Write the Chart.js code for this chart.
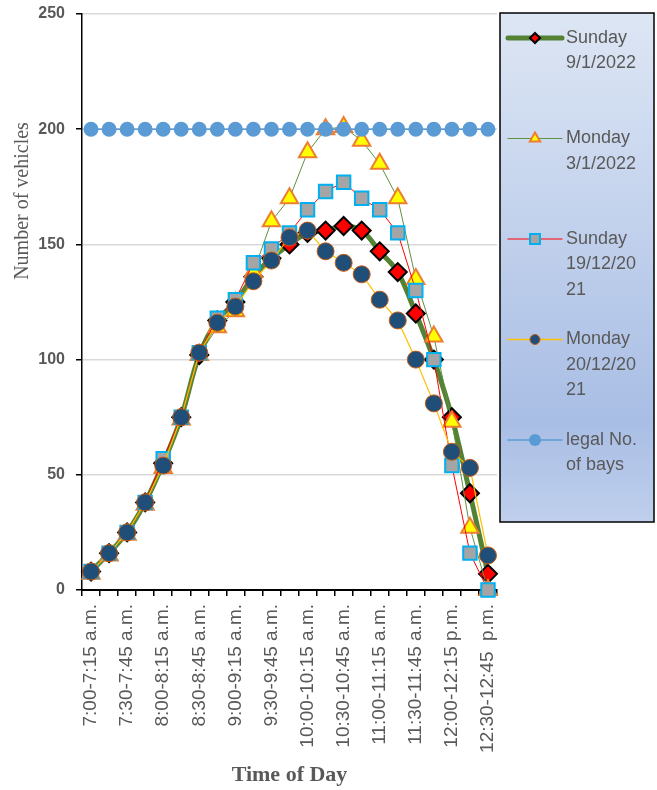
<!DOCTYPE html>
<html>
<head>
<meta charset="utf-8">
<script src="https://cdn.jsdelivr.net/npm/chart.js@4.4.0/dist/chart.umd.min.js"></script>
<style>
  body { margin: 0; background: #fff; }
  canvas { display: block; }
</style>
</head>
<body>
<canvas id="chart" width="657" height="790"></canvas>
<script>
const timeSlots = [
    '7:00-7:15 a.m.', '7:15-7:30 a.m.', '7:30-7:45 a.m.', '7:45-8:00 a.m.',
    '8:00-8:15 a.m.', '8:15-8:30 a.m.', '8:30-8:45 a.m.', '8:45-9:00 a.m.',
    '9:00-9:15 a.m.', '9:15-9:30 a.m.', '9:30-9:45 a.m.', '9:45-10:00 a.m.',
    '10:00-10:15 a.m.', '10:15-10:30 a.m.', '10:30-10:45 a.m.', '10:45-11:00 a.m.',
    '11:00-11:15 a.m.', '11:15-11:30 a.m.', '11:30-11:45 a.m.', '11:45-12:00 p.m.',
    '12:00-12:15 p.m.', '12:15-12:30 p.m.', '12:30-12:45  p.m.'
];

const sunday9Jan = [8, 16, 25, 38, 55, 75, 102, 117, 125, 136, 144, 150, 155, 156, 158, 156, 147, 138, 120, 100, 75, 42, 7];
const monday3Jan = [7, 15, 24, 37, 53, 74, 102, 114, 121, 138, 160, 170, 190, 200, 201, 195, 185, 170, 135, 110, 73, 27, 0];
const sunday19Dec = [8, 16, 25, 38, 57, 75, 103, 118, 126, 142, 148, 155, 165, 173, 177, 170, 165, 155, 130, 100, 54, 16, 0];
const monday20Dec = [8, 16, 25, 38, 54, 75, 103, 116, 123, 134, 143, 153, 156, 147, 142, 137, 126, 117, 100, 81, 60, 53, 15];
const legalBays = [200, 200, 200, 200, 200, 200, 200, 200, 200, 200, 200, 200, 200, 200, 200, 200, 200, 200, 200, 200, 200, 200, 200];

const legendLines = [
    ['Sunday', '9/1/2022'],
    ['Monday', '3/1/2022'],
    ['Sunday', '19/12/20', '21'],
    ['Monday', '20/12/20', '21'],
    ['legal No.', 'of bays']
];

const yTicks = [0, 50, 100, 150, 200, 250];

const textGray = '#595959';
const sansFont = '"Liberation Sans", Arial, sans-serif';
const serifFont = '"Liberation Serif", "Times New Roman", serif';

// legend box + rotated y title, drawn by hand like the Excel original
const sidePlugin = {
    id: 'sidePlugin',
    afterDraw(chart) {
        const ctx = chart.ctx;
        ctx.save();

        // y axis title
        ctx.translate(23, 201);
        ctx.rotate(-Math.PI / 2);
        ctx.fillStyle = textGray;
        ctx.font = '20px ' + serifFont;
        ctx.textAlign = 'center';
        ctx.textBaseline = 'middle';
        ctx.fillText('Number of vehicles', 0, 0);
        ctx.restore();

        // legend box
        const bx = 500, by = 13, bw = 154, bh = 509;
        ctx.save();
        const grad = ctx.createLinearGradient(0, by, 0, by + bh);
        grad.addColorStop(0, '#DDE6F4');
        grad.addColorStop(0.8, '#A9BEE5');
        grad.addColorStop(1, '#BFCFEC');
        ctx.fillStyle = grad;
        ctx.fillRect(bx, by, bw, bh);
        ctx.strokeStyle = '#000';
        ctx.lineWidth = 1.5;
        ctx.strokeRect(bx, by, bw, bh);

        chart.data.datasets.forEach((ds, i) => {
            const y = 38 + i * 100.5;
            ctx.strokeStyle = ds.borderColor;
            ctx.lineWidth = ds.legendLineWidth;
            ctx.lineCap = 'round';
            ctx.beginPath();
            ctx.moveTo(508, y);
            ctx.lineTo(562, y);
            ctx.stroke();

            ctx.fillStyle = ds.pointBackgroundColor;
            ctx.strokeStyle = ds.pointBorderColor;
            ctx.lineWidth = ds.pointBorderWidth;
            Chart.helpers.drawPoint(ctx, {
                pointStyle: ds.pointStyle,
                radius: ds.legendRadius,
                rotation: 0,
                borderWidth: ds.pointBorderWidth
            }, 535, y);

            ctx.fillStyle = textGray;
            ctx.font = '18px ' + sansFont;
            ctx.textAlign = 'left';
            ctx.textBaseline = 'middle';
            legendLines[i].forEach((line, j) => {
                ctx.fillText(line, 566, y + j * 25.5);
            });
        });
        ctx.restore();
    }
};

const ctx = document.getElementById('chart').getContext('2d');

new Chart(ctx, {
    type: 'line',
    data: {
        labels: timeSlots,
        datasets: [{
            label: 'Sunday 9/1/2022',
            data: sunday9Jan,
            borderColor: '#548235',
            borderWidth: 5,
            tension: 0.35,
            pointStyle: 'rectRot',
            pointRadius: 9,
            pointBackgroundColor: '#FF0000',
            pointBorderColor: '#000000',
            pointBorderWidth: 2,
            legendLineWidth: 5,
            legendRadius: 5,
            order: 4
        }, {
            label: 'Monday 3/1/2022',
            data: monday3Jan,
            borderColor: '#5E9140',
            borderWidth: 1,
            pointStyle: 'triangle',
            pointRadius: 10,
            pointBackgroundColor: '#FFFF00',
            pointBorderColor: '#ED7D31',
            pointBorderWidth: 2,
            legendLineWidth: 1.2,
            legendRadius: 6,
            order: 3
        }, {
            label: 'Sunday 19/12/2021',
            data: sunday19Dec,
            borderColor: '#FF0000',
            borderWidth: 1,
            pointStyle: 'rect',
            pointRadius: 9.5,
            pointBackgroundColor: '#A5A5A5',
            pointBorderColor: '#00B0F0',
            pointBorderWidth: 2,
            legendLineWidth: 1.2,
            legendRadius: 7,
            order: 2
        }, {
            label: 'Monday 20/12/2021',
            data: monday20Dec,
            borderColor: '#FFC000',
            borderWidth: 1.2,
            pointStyle: 'circle',
            pointRadius: 8.5,
            pointBackgroundColor: '#1F4E79',
            pointBorderColor: '#C55A11',
            pointBorderWidth: 1,
            legendLineWidth: 1.5,
            legendRadius: 5,
            order: 1
        }, {
            label: 'legal No. of bays',
            data: legalBays,
            borderColor: '#5B9BD5',
            borderWidth: 1.5,
            pointStyle: 'circle',
            pointRadius: 7.5,
            pointBackgroundColor: '#5B9BD5',
            pointBorderColor: '#5B9BD5',
            pointBorderWidth: 0,
            legendLineWidth: 1.5,
            legendRadius: 6,
            order: 0
        }]
    },
    options: {
        responsive: false,
        animation: false,
        datasets: { line: { clip: false } },
        layout: { padding: { left: 0, top: 14, right: 160, bottom: 0 } },
        plugins: {
            legend: { display: false },
            tooltip: { enabled: false }
        },
        scales: {
            x: {
                type: 'category',
                offset: true,
                afterFit(scale) {
                    scale.height = 200;
                    scale.paddingLeft = 0;
                    scale.paddingRight = 0;
                },
                grid: {
                    drawOnChartArea: false,
                    offset: true,
                    drawTicks: true,
                    tickLength: 6,
                    tickColor: '#000',
                    lineWidth: 1.5
                },
                border: { color: '#000', width: 2 },
                ticks: {
                    autoSkip: false,
                    maxRotation: 90,
                    minRotation: 90,
                    padding: 8,
                    color: textGray,
                    font: { family: sansFont, size: 19 },
                    callback(value, index) {
                        return index % 2 === 0 ? timeSlots[index] : '';
                    }
                },
                title: {
                    display: true,
                    text: 'Time of Day',
                    color: textGray,
                    font: { family: serifFont, size: 22, weight: 'bold' },
                    padding: { top: 0, bottom: 1 }
                }
            },
            y: {
                min: 0,
                max: 250,
                afterFit(scale) {
                    scale.width = 82;
                    scale.paddingTop = 0;
                    scale.paddingBottom = 0;
                },
                afterBuildTicks(scale) {
                    scale.ticks = yTicks.map(v => ({ value: v }));
                },
                grid: {
                    color: '#D9D9D9',
                    lineWidth: 1.5,
                    drawTicks: true,
                    tickLength: 6,
                    tickColor: '#000'
                },
                border: { color: '#000', width: 1.5 },
                ticks: {
                    padding: 11,
                    color: textGray,
                    font: { family: sansFont, size: 16, weight: 'bold' }
                }
            }
        }
    },
    plugins: [sidePlugin]
});
</script>
</body>
</html>
